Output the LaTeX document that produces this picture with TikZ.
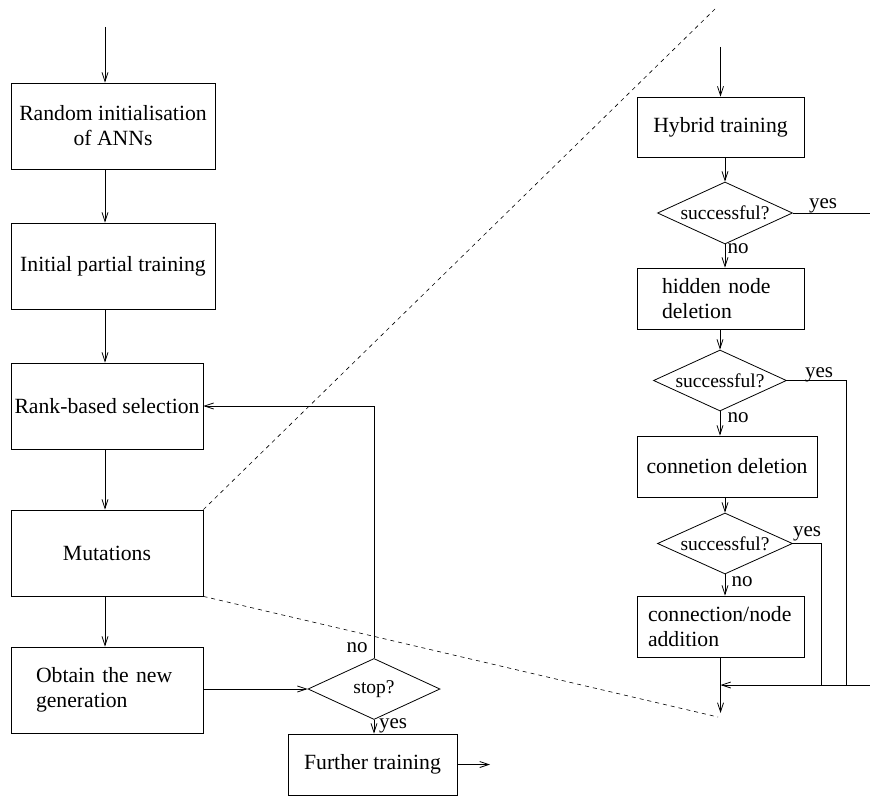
\documentclass[tikz,border=0pt]{standalone}
\usepackage{fontspec}
\setmainfont{Liberation Serif}
\newfontfamily\tnrfont{Liberation Serif}
\usetikzlibrary{shapes.geometric,arrows.meta}
\begin{document}
\begin{tikzpicture}[x=1pt,y=-1pt,
  boxnode/.style={draw,line width=0.8pt,inner sep=0pt,font=\tnrfont\fontsize{21.7}{25}\selectfont,align=center},
  decision/.style={draw,diamond,line width=0.8pt,inner sep=0pt},
  dtext/.style={inner sep=0pt,font=\tnrfont\fontsize{19.5}{22}\selectfont},
  lbl/.style={inner sep=0pt,font=\tnrfont\fontsize{21}{24}\selectfont},
  flow/.style={line width=0.8pt,-{Straight Barb[length=9pt,width=6pt]}},
  plain/.style={line width=0.8pt},
  zoomline/.style={line width=0.6pt,dash pattern=on 4pt off 4pt}]
\useasboundingbox (0,0) rectangle (870,797);

% ---------------- left column ----------------
\coordinate (top) at (105,27);
\node[boxnode,minimum width=204pt,minimum height=86pt] (init) at (113,126) {Random initialisation\\of ANNs};
\node[boxnode,minimum width=204pt,minimum height=86pt] (ipt) at (113,266) {Initial partial training};
\node[boxnode,minimum width=192pt,minimum height=86pt] (rank) at (107,406) {Rank-based selection};
\node[boxnode,minimum width=192pt,minimum height=86pt] (mut) at (107,553) {Mutations};
\node[boxnode,minimum width=192pt,minimum height=86pt,text width=142pt,align=left] (obtain) at (107,690) {Obtain the new\\generation};
\node[decision,minimum width=132pt,minimum height=61pt,label={[dtext]center:stop?}] (stop) at (374,689) {};
\node[boxnode,minimum width=169pt,minimum height=61pt] (further) at (372.5,764.5) {Further training};
\coordinate (out) at (490,764.5);

\draw[flow] (top) -- (top |- init.north);
\draw[flow] (init.south -| top) -- (ipt.north -| top);
\draw[flow] (ipt.south -| top) -- (rank.north -| top);
\draw[flow] (rank.south -| top) -- (mut.north -| top);
\draw[flow] (mut.south -| top) -- (obtain.north -| top);
\draw[flow] (obtain.east |- stop.west) -- (stop.west);
\draw[flow] (stop.north) -- (stop.north |- rank.east) -- (rank.east);
\draw[flow] (stop.south) -- (stop.south |- further.north);
\draw[flow] (further.east) -- (out);
\node[lbl] (no0) at (357,648) {no};
\node[lbl] (yes0) at (393,726) {yes};

% ---------------- zoom lines ----------------
\coordinate (zt) at (715,9);
\coordinate (zb) at (718,717);
\draw[zoomline] (mut.north east) -- (zt);
\draw[zoomline] (mut.south east) -- (zb);

% ---------------- right column ----------------
\coordinate (rtop) at (720.5,47);
\node[boxnode,minimum width=167pt,minimum height=60pt] (hyb) at (720.5,127) {Hybrid training};
\node[decision,minimum width=135pt,minimum height=62pt,label={[dtext]center:successful?}] (d1) at (725,213) {};
\node[boxnode,minimum width=167pt,minimum height=61pt,text width=117pt,align=left] (hid) at (720.5,298.5) {hidden node\\deletion};
\node[decision,minimum width=133pt,minimum height=61pt,label={[dtext]center:successful?}] (d2) at (720,380.5) {};
\node[boxnode,minimum width=180pt,minimum height=61pt] (cdel) at (727,466.5) {connetion deletion};
\node[decision,minimum width=135pt,minimum height=61pt,label={[dtext]center:successful?}] (d3) at (725,543.5) {};
\node[boxnode,minimum width=167pt,minimum height=61pt,text width=145pt,align=left] (add) at (720.5,626.5) {connection/node\\addition};
\coordinate (join) at (720.5,685);
\coordinate (rend) at (870,685);
\coordinate (fin) at (720.5,713);
\coordinate (yes1end) at (870,213);
\coordinate (c2) at (846,685);
\coordinate (c3) at (821,685);

\draw[flow] (rtop) -- (hyb.north);
\draw[flow] (d1.north |- hyb.south) -- (d1.north);
\draw[flow] (d1.south) -- (d1.south |- hid.north);
\draw[flow] (d2.north |- hid.south) -- (d2.north);
\draw[flow] (d2.south) -- (d2.south |- cdel.north);
\draw[flow] (d3.north |- cdel.south) -- (d3.north);
\draw[flow] (d3.south) -- (d3.south |- add.north);
\draw[flow] (add.south) -- (fin);
\draw[flow] (rend) -- (join);
\draw[plain] (d1.east) -- (yes1end);
\draw[plain] (d2.east) -| (c2);
\draw[plain] (d3.east) -| (c3);

\node[lbl] (yes1) at (823,206) {yes};
\node[lbl] (no1) at (738,249) {no};
\node[lbl] (yes2) at (819,375) {yes};
\node[lbl] (no2) at (738,418) {no};
\node[lbl] (yes3) at (807,534) {yes};
\node[lbl] (no3) at (742,582) {no};
\end{tikzpicture}
\end{document}
